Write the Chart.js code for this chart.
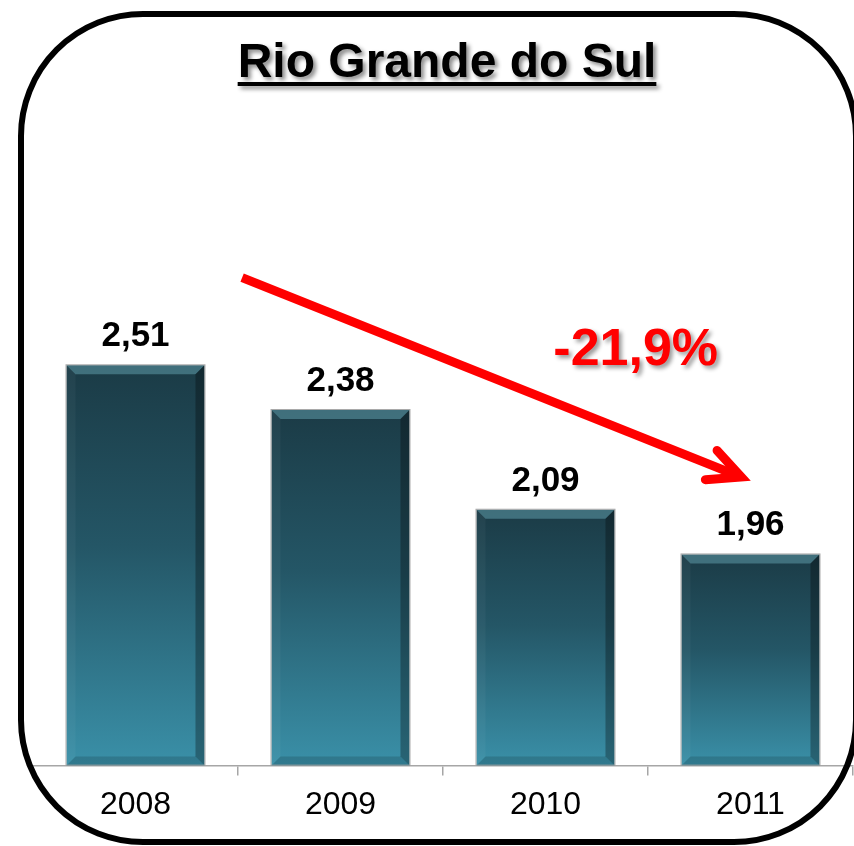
<!DOCTYPE html>
<html>
<head>
<meta charset="utf-8">
<script src="https://cdn.jsdelivr.net/npm/chart.js@4.4.1/dist/chart.umd.min.js"></script>
<style>
  html, body { margin: 0; padding: 0; background: #fff; }
  #wrap { width: 854px; height: 846px; position: relative; }
</style>
</head>
<body>
<div id="wrap"><canvas id="rsChart"></canvas></div>
<script>
// Data
const years = ['2008', '2009', '2010', '2011'];
const values = [2.51, 2.38, 2.09, 1.96];
const titleText = 'Rio Grande do Sul';
const changeText = '-21,9%';

// arrow + label anchored in scale units (x = category index, y = value)
const arrowFrom = { x: 0.52, y: 2.765 };
const arrowTo = { x: 2.955, y: 2.185 };
const changeAt = { x: 2.44, y: 2.51 };

const FONT = '"Liberation Sans", Arial, sans-serif';

function barGradient(context) {
    const chart = context.chart;
    const { chartArea, scales } = chart;
    if (!chartArea || context.parsed == null) return '#2c6878';
    const top = scales.y.getPixelForValue(context.parsed.y);
    const g = chart.ctx.createLinearGradient(0, top, 0, chartArea.bottom);
    g.addColorStop(0, '#1b3b46');
    g.addColorStop(0.45, '#245666');
    g.addColorStop(1, '#3a90a8');
    return g;
}

const bevelPlugin = {
    id: 'bevel',
    afterDatasetsDraw: (chart) => {
        const ctx = chart.ctx;
        const meta = chart.getDatasetMeta(0);
        meta.data.forEach(bar => {
            const l = bar.x - bar.width / 2;
            const r = bar.x + bar.width / 2;
            const t = bar.y;
            const b = Math.min(bar.base, chart.chartArea.bottom);
            const d = 9;
            ctx.save();
            // top
            ctx.fillStyle = 'rgba(120,190,205,0.4)';
            ctx.beginPath();
            ctx.moveTo(l, t); ctx.lineTo(r, t); ctx.lineTo(r - d, t + d); ctx.lineTo(l + d, t + d);
            ctx.closePath(); ctx.fill();
            // left
            ctx.fillStyle = 'rgba(255,255,255,0.04)';
            ctx.beginPath();
            ctx.moveTo(l, t); ctx.lineTo(l + d, t + d); ctx.lineTo(l + d, b - d); ctx.lineTo(l, b);
            ctx.closePath(); ctx.fill();
            // right
            ctx.fillStyle = 'rgba(0,0,0,0.3)';
            ctx.beginPath();
            ctx.moveTo(r, t); ctx.lineTo(r - d, t + d); ctx.lineTo(r - d, b - d); ctx.lineTo(r, b);
            ctx.closePath(); ctx.fill();
            // bottom
            ctx.fillStyle = 'rgba(0,0,0,0.15)';
            ctx.beginPath();
            ctx.moveTo(l, b); ctx.lineTo(l + d, b - d); ctx.lineTo(r - d, b - d); ctx.lineTo(r, b);
            ctx.closePath(); ctx.fill();
            // outline
            ctx.strokeStyle = 'rgba(160,160,160,0.9)';
            ctx.lineWidth = 1;
            ctx.strokeRect(l - 0.5, t - 0.5, r - l + 1, b - t);
            ctx.restore();
        });
    }
};

const valueLabelPlugin = {
    id: 'valueLabels',
    afterDatasetsDraw: (chart) => {
        const ctx = chart.ctx;
        const meta = chart.getDatasetMeta(0);
        ctx.save();
        ctx.font = `bold 35px ${FONT}`;
        ctx.fillStyle = '#000';
        ctx.textAlign = 'center';
        ctx.textBaseline = 'alphabetic';
        meta.data.forEach((bar, i) => {
            const txt = values[i].toFixed(2).replace('.', ',');
            ctx.fillText(txt, bar.x, bar.y - 19);
        });
        ctx.restore();
    }
};

const decorPlugin = {
    id: 'decor',
    afterDraw: (chart) => {
        const ctx = chart.ctx;
        const { x, y } = chart.scales;

        // title
        ctx.save();
        ctx.font = `bold 48px ${FONT}`;
        ctx.textAlign = 'center';
        ctx.textBaseline = 'alphabetic';
        ctx.fillStyle = '#000';
        ctx.shadowColor = 'rgba(0,0,0,0.45)';
        ctx.shadowOffsetX = 3;
        ctx.shadowOffsetY = 3;
        ctx.shadowBlur = 4;
        const cx = 447;
        ctx.fillText(titleText, cx, 77);
        const w = ctx.measureText(titleText).width;
        ctx.fillRect(cx - w / 2, 82, w, 4);
        ctx.restore();

        // arrow
        const x1 = x.getPixelForValue(arrowFrom.x), y1 = y.getPixelForValue(arrowFrom.y);
        const x2 = x.getPixelForValue(arrowTo.x), y2 = y.getPixelForValue(arrowTo.y);
        const ang = Math.atan2(y2 - y1, x2 - x1);
        const head = 36, spread = 26 * Math.PI / 180;
        ctx.save();
        ctx.strokeStyle = '#ff0000';
        ctx.lineWidth = 9;
        ctx.lineCap = 'butt';
        ctx.lineJoin = 'miter';
        ctx.beginPath();
        ctx.moveTo(x1, y1);
        ctx.lineTo(x2 - 4 * Math.cos(ang), y2 - 4 * Math.sin(ang));
        ctx.stroke();
        ctx.lineCap = 'round';
        ctx.beginPath();
        ctx.moveTo(x2 - head * Math.cos(ang - spread), y2 - head * Math.sin(ang - spread));
        ctx.lineTo(x2, y2);
        ctx.lineTo(x2 - head * Math.cos(ang + spread), y2 - head * Math.sin(ang + spread));
        ctx.stroke();
        ctx.restore();

        // change label
        ctx.save();
        ctx.font = `bold 52px ${FONT}`;
        ctx.textAlign = 'center';
        ctx.textBaseline = 'alphabetic';
        ctx.fillStyle = '#ff0000';
        ctx.shadowColor = 'rgba(0,0,0,0.4)';
        ctx.shadowOffsetX = 3;
        ctx.shadowOffsetY = 3;
        ctx.shadowBlur = 4;
        ctx.fillText(changeText, x.getPixelForValue(changeAt.x), y.getPixelForValue(changeAt.y));
        ctx.restore();

        // rounded frame
        ctx.save();
        ctx.strokeStyle = '#000';
        ctx.lineWidth = 6;
        ctx.beginPath();
        ctx.roundRect(21, 14, 835, 828, 122);
        ctx.stroke();
        ctx.restore();
    }
};

const ctx1 = document.getElementById('rsChart').getContext('2d');
new Chart(ctx1, {
    type: 'bar',
    data: {
        labels: years,
        datasets: [{
            data: values,
            backgroundColor: barGradient,
            borderWidth: 0,
            barPercentage: 0.673,
            categoryPercentage: 1
        }]
    },
    options: {
        responsive: true,
        maintainAspectRatio: false,
        animation: false,
        layout: { padding: { left: 33, right: 1, top: 128, bottom: 12 } },
        plugins: {
            legend: { display: false },
            tooltip: { enabled: false }
        },
        scales: {
            y: {
                display: false,
                min: 1.346,
                max: 3.2
            },
            x: {
                border: { display: true, color: '#a6a6a6', width: 1.5 },
                grid: {
                    display: true,
                    offset: true,
                    drawOnChartArea: false,
                    drawTicks: true,
                    tickLength: 10,
                    color: '#a6a6a6',
                    lineWidth: 1.5
                },
                ticks: {
                    color: '#000',
                    padding: 10,
                    font: { family: FONT, size: 32 }
                }
            }
        }
    },
    plugins: [bevelPlugin, valueLabelPlugin, decorPlugin]
});
</script>
</body>
</html>
